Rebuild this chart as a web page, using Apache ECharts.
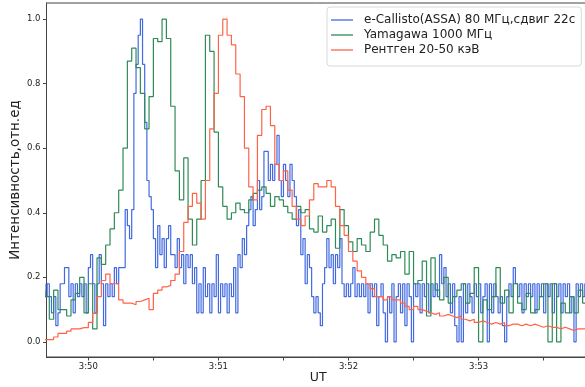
<!DOCTYPE html>
<html><head><meta charset="utf-8">
<script src="https://cdn.jsdelivr.net/npm/echarts@6/dist/echarts.min.js"></script>
<style>html,body{margin:0;padding:0;background:#fff}#c{width:585px;height:387px}</style>
</head><body><div id="c"></div>
<script>
// time in seconds after 3:50:00 UT
const blueT0 = -20, blueDt = 1;
const blueV = [
0.18,0.14,0.18,0.14,0.09,0.14,0.05,0.09,0.18,0.18,0.23,0.23,0.14,0.18,0.09,0.18,0.14,0.18,0.14,0.18,
0.09,0.23,0.27,0.18,0.09,0.18,0.27,0.18,0.05,0.18,0.14,0.18,0.14,0.23,0.18,0.23,0.23,0.23,0.41,0.36,
0.32,0.41,0.77,0.86,0.95,1.0,0.86,0.68,0.5,0.45,0.41,0.32,
0.23,0.36,0.27,0.32,0.23,0.32,0.36,0.27,0.27,0.23,0.32,0.23,0.27,0.18,0.27,0.23,0.27,0.18,0.23,0.09,0.18,0.09,0.23,0.14,0.18,0.09,0.18,0.14,0.27,0.09,0.18,
0.14,0.18,0.09,0.18,0.14,0.23,0.09,0.27,0.23,0.32,0.27,0.36,0.41,0.45,0.36,0.41,0.5,0.41,0.45,0.59,0.59,0.5,0.55,0.5,0.55,0.64,0.5,0.45,0.55,0.5,0.45,0.55,0.5,0.45,0.36,0.41,0.27,0.32,0.18,0.27,0.23,
0.14,0.09,0.14,0.09,0.05,0.18,0.23,0.32,0.23,0.27,0.18,0.27,0.23,0.32,0.18,0.14,0.18,0.14,0.18,0.23,0.14,0.18,0.14,0.18,0.14,0.18,0.09,0.18,0.14,0.18,0.05,0.14,0.18,0.09,0.0,0.14,0.09,0.18,0.0,0.14,0.18,0.09,
0.18,0.05,0.18,0.14,0.0,0.18,0.14,0.18,0.09,0.18,
0.14,0.18,0.09,0.18,0.14,0.18,0.14,0.27,0.18,0.23,
0.14,0.18,0.09,0.18,0.05,0.0,0.14,0.0,0.18,0.09,
0.18,0.14,0.09,0.18,0.14,0.18,0.09,0.14,0.18,0.0,
0.18,0.09,0.18,0.14,0.09,0.14,0.05,0.0,0.14,0.18,
0.14,0.23,0.18,0.14,0.18,0.09,0.18,0.14,0.18,0.14,
0.18,0.09,0.18,0.14,0.18,0.09,0.18,0.14,0.18,0.09,
0.18,0.14,0.18,0.09,0.18,0.14,0.18,0.09,0.14,0.0,
0.18,0.14,0.18,0.14,0.18,0.14,0.18
];
const greenT0 = -20, greenDt = 2;
const greenV = [
0.16,0.14,0.07,0.16,0.1,0.1,0.08,0.13,0.15,0.2,0.09,0.18,0.04,0.26,0.24,0.3,0.35,0.4,0.47,0.6,
0.87,0.91,0.85,0.77,0.66,0.76,0.94,0.93,1.0,0.94,0.73,0.53,0.44,0.57,0.38,0.3,0.38,0.5,0.95,0.9,0.65,0.48,
0.42,0.38,0.4,0.43,0.41,0.4,0.44,0.46,0.47,0.48,0.46,0.42,0.45,0.44,0.42,0.4,0.38,0.42,0.4,0.41,
0.35,0.34,0.39,0.34,0.36,0.38,0.29,0.41,0.36,0.31,0.28,0.32,0.3,0.28,0.34,0.38,0.33,0.3,0.25,0.27,
0.26,0.28,0.21,0.28,0.18,0.19,0.25,0.08,0.26,0.16,0.13,0.2,0.12,0.14,0.16,0.18,0.12,0.15,0.23,0.0,
0.13,0.1,0.14,0.23,0.12,0.16,0.09,0.18,0.12,0.1,0.15,0.09,0.1,0.14,0.18,0.0,0.18,0.0,0.12,0.09,0.14,0.09,0.16,0.12,0.14
];
const redT0 = -20, redDt = 2;
const redV = [
0.007,0.007,0.007,0.015,0.026,0.026,0.033,0.04,0.04,0.044,0.044,0.06,0.088,0.14,0.19,0.21,0.18,0.18,0.13,0.12,
0.12,0.115,0.125,0.13,0.135,0.10,0.15,0.16,0.17,0.175,0.19,0.21,0.28,0.37,0.42,0.46,0.43,0.38,0.5,0.66,0.77,0.95,
1.0,0.95,0.92,0.83,0.76,0.6,0.48,0.44,0.64,0.72,0.73,0.67,0.55,0.5,0.53,0.47,0.42,0.38,0.36,0.39,
0.44,0.49,0.48,0.48,0.5,0.48,0.42,0.36,0.33,0.28,0.25,0.22,0.2,0.18,0.165,0.14,0.14,0.13,0.14,0.13,
0.13,0.12,0.11,0.1,0.11,0.1,0.095,0.09,0.085,0.09,0.08,0.085,0.08,0.075,0.08,0.07,0.065,0.07,0.06,0.065,
0.06,0.055,0.06,0.055,0.06,0.05,0.055,0.055,0.05,0.055,0.05,0.055,0.05,0.045,0.05,0.045,0.045,0.04,0.045,0.04,0.035,0.04,0.04,0.04,0.038
];
const seriesNames = ['e-Callisto(ASSA) 80 МГц,сдвиг 22с', 'Yamagawa 1000 МГц', 'Рентген 20-50 кэВ'];
const xTickValues = [0, 60, 120, 180];
const xTickLabels = ['3:50', '3:51', '3:52', '3:53'];
const xMinorTicks = [0, 30, 60, 90, 120, 150, 180, 210];
const yTickValues = [0, 0.2, 0.4, 0.6, 0.8, 1.0];
const yTickLabels = ['0.0', '0.2', '0.4', '0.6', '0.8', '1.0'];

function pairs(t0, dt, vals) { return vals.map((v, i) => [t0 + i * dt, v]); }

const FONT = 'DejaVu Sans';
const axisColor = '#444';
const chart = echarts.init(document.getElementById('c'), null, {renderer: 'canvas'});
const mk = (name, data, color) => ({
  name, type: 'line', step: 'start', symbol: 'none', showSymbol: false, data,
  lineStyle: {color, width: 1.2}, itemStyle: {color}, clip: true, animation: false
});
chart.setOption({
  animation: false,
  backgroundColor: '#fff',
  grid: {left: 46.5, right: -5, top: 3, bottom: 30, show: true, borderColor: axisColor, borderWidth: 1,
         containLabel: false, outerBoundsMode: 'none'},
  xAxis: {
    type: 'value', min: -19.3, max: 231.4,
    name: 'UT', nameLocation: 'middle', nameGap: 14, nameMoveOverlap: false,
    nameTextStyle: {fontFamily: FONT, fontSize: 12.5, color: '#222'},
    axisLine: {show: true, onZero: false, lineStyle: {color: axisColor, width: 1}},
    axisTick: {show: true, length: 3.5, customValues: xMinorTicks, lineStyle: {color: axisColor}},
    axisLabel: {show: true, customValues: xTickValues, margin: 5, fontFamily: FONT, fontSize: 8.5, color: '#222',
      formatter: v => { const i = xTickValues.indexOf(v); return i >= 0 ? xTickLabels[i] : ''; }},
    splitLine: {show: false}
  },
  yAxis: {
    type: 'value', min: -0.047, max: 1.05,
    name: 'Интенсивность,отн.ед', nameLocation: 'middle', nameGap: 24, nameRotate: 90, nameMoveOverlap: false,
    nameTextStyle: {fontFamily: FONT, fontSize: 13.5, color: '#222'},
    axisLine: {show: true, onZero: false, lineStyle: {color: axisColor, width: 1}},
    axisTick: {show: true, length: 3.5, customValues: yTickValues, lineStyle: {color: axisColor}},
    axisLabel: {show: true, customValues: yTickValues, margin: 6, fontFamily: FONT, fontSize: 8.5, color: '#222',
      formatter: v => { const i = yTickValues.findIndex(x => Math.abs(x - v) < 1e-9); return i >= 0 ? yTickLabels[i] : ''; }},
    splitLine: {show: false}
  },
  legend: {
    orient: 'vertical', left: 327, top: 7,
    data: seriesNames.map(n => ({name: n, icon: 'rect'})),
    backgroundColor: 'rgba(255,255,255,0.85)', borderColor: '#d8d8d8', borderWidth: 1, borderRadius: 3,
    padding: [7, 6, 10, 4], itemWidth: 22, itemHeight: 1.3, itemGap: 3,
    textStyle: {fontFamily: FONT, fontSize: 12, color: '#222', padding: [0, 0, 0, 6], lineHeight: 12}
  },
  series: [
    mk(seriesNames[0], pairs(blueT0, blueDt, blueV), '#4169e1'),
    mk(seriesNames[1], pairs(greenT0, greenDt, greenV), '#2e8b57'),
    mk(seriesNames[2], pairs(redT0, redDt, redV), '#ff6347')
  ]
});
</script></body></html>
